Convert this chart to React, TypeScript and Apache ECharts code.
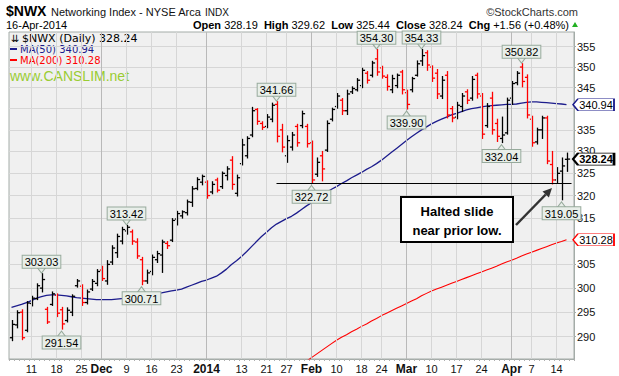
import React, { useEffect, useRef } from 'react';
import * as echarts from 'echarts';

// ---------- DATA ----------
const tradingDays: Record<string, number[]> = {
  '2013-11': [5, 6, 7, 8, 11, 12, 13, 14, 15, 18, 19, 20, 21, 22, 25, 26, 27, 29],
  '2013-12': [2, 3, 4, 5, 6, 9, 10, 11, 12, 13, 16, 17, 18, 19, 20, 23, 24, 26, 27, 30, 31],
  '2014-01': [2, 3, 6, 7, 8, 9, 10, 13, 14, 15, 16, 17, 21, 22, 23, 24, 27, 28, 29, 30, 31],
  '2014-02': [3, 4, 5, 6, 7, 10, 11, 12, 13, 14, 18, 19, 20, 21, 24, 25, 26, 27, 28],
  '2014-03': [3, 4, 5, 6, 7, 10, 11, 12, 13, 14, 17, 18, 19, 20, 21, 24, 25, 26, 27, 28, 31],
  '2014-04': [1, 2, 3, 4, 7, 8, 9, 10, 11, 14, 15, 16],
};
const dates: string[] = [];
Object.keys(tradingDays).forEach((m) =>
  tradingDays[m].forEach((d) => dates.push(`${m}-${String(d).padStart(2, '0')}`))
);

const opens = [
  289.8, 292.4, 295.0, 291.3, 296.8, 297.8, 300.0, 295.6, 296.6, 298.5,
  295.5, 293.3, 295.0, 300.5, 300.4, 297.0, 299.8, 301.0, 303.8, 301.5,
  305.5, 307.5, 310.0, 312.2, 312.0, 309.8, 306.0, 301.5, 303.5, 306.0,
  307.0, 309.5, 310.2, 314.8, 315.5, 316.2, 318.5, 321.6, 323.0, 323.0,
  320.8, 323.5, 322.0, 324.5, 328.0, 320.5, 327.2, 329.0, 333.8, 339.8,
  336.5, 335.8, 337.5, 341.0, 335.0, 329.0, 331.0, 335.8, 336.0, 335.8,
  332.0, 324.8, 329.0, 330.3, 337.5, 340.5, 342.0, 339.5, 344.0, 344.5,
  345.5, 348.5, 348.0, 352.0, 349.8, 347.5, 344.5, 345.5, 348.8, 343.8,
  344.5, 348.0, 351.5, 353.5, 350.0, 348.5, 343.0, 348.0, 340.0, 338.0,
  340.5, 344.0, 342.5, 348.0, 343.0, 336.0, 342.5, 336.5, 333.0, 334.3,
  342.5, 346.2, 350.0, 347.5, 337.5, 332.2, 335.0, 337.8, 327.0, 323.5,
  325.5, 328.19,
];
const highs = [
  293.3, 295.3, 295.5, 297.2, 298.3, 300.9, 303.03, 296.0, 299.2, 298.8,
  296.0, 295.9, 298.6, 301.8, 300.7, 299.6, 301.8, 303.9, 304.6, 305.8,
  309.0, 311.5, 313.0, 313.42, 312.4, 310.5, 306.5, 303.8, 307.0, 307.8,
  310.2, 309.9, 314.9, 316.5, 316.6, 319.0, 322.0, 324.0, 324.6, 323.3,
  323.1, 323.9, 325.3, 326.5, 328.8, 324.6, 332.8, 333.4, 340.3, 340.0,
  336.9, 338.6, 341.3, 341.66, 336.3, 333.6, 334.4, 336.3, 339.4, 336.3,
  332.4, 328.5, 330.0, 337.1, 340.1, 343.6, 342.4, 344.4, 345.2, 347.2,
  349.7, 348.9, 351.4, 354.30, 350.2, 348.1, 348.0, 348.3, 349.2, 344.4,
  347.5, 351.5, 354.33, 354.0, 350.3, 349.4, 347.7, 348.9, 340.5, 341.5,
  343.6, 344.5, 347.7, 348.5, 343.6, 341.2, 343.9, 337.5, 338.0, 342.5,
  346.5, 348.9, 350.82, 348.1, 338.2, 335.4, 338.2, 338.2, 330.0, 326.3,
  328.5, 329.62,
];
const lows = [
  289.2, 291.8, 289.4, 291.0, 296.3, 297.6, 299.2, 292.7, 296.4, 294.1,
  291.54, 293.0, 294.3, 300.2, 296.4, 296.7, 299.5, 300.5, 301.6, 300.8,
  305.0, 306.5, 309.4, 311.5, 309.3, 306.3, 300.71, 301.0, 302.8, 305.4,
  303.3, 308.4, 309.9, 313.5, 315.0, 315.7, 317.6, 321.3, 322.4, 319.4,
  320.4, 320.8, 321.6, 323.5, 321.4, 319.9, 326.9, 328.5, 333.4, 336.3,
  335.1, 335.5, 336.9, 332.2, 329.9, 327.5, 330.3, 331.2, 335.5, 331.0,
  322.72, 324.3, 323.3, 330.0, 337.1, 340.1, 338.6, 338.6, 343.6, 344.2,
  345.0, 346.1, 347.6, 348.0, 347.3, 344.4, 343.8, 345.0, 343.5, 339.90,
  344.0, 347.8, 350.4, 349.2, 346.5, 342.4, 342.4, 337.8, 336.9, 337.6,
  339.3, 341.2, 342.0, 342.5, 333.0, 335.6, 334.0, 332.3, 332.04, 334.0,
  341.0, 345.7, 345.2, 337.8, 331.2, 331.7, 333.0, 327.2, 322.6, 322.8,
  319.05, 325.44,
];
const closes = [
  292.5, 294.9, 289.8, 296.9, 297.9, 300.5, 301.8, 293.0, 298.8, 294.8,
  292.6, 295.4, 298.3, 301.5, 297.0, 299.2, 301.4, 303.5, 302.0, 305.0,
  308.5, 311.0, 312.5, 313.0, 310.0, 306.8, 301.5, 303.2, 306.5, 307.3,
  309.8, 309.0, 314.5, 316.0, 316.4, 318.6, 321.5, 323.6, 324.3, 320.0,
  322.5, 321.2, 325.0, 326.0, 322.5, 324.0, 331.5, 333.0, 339.5, 337.0,
  335.6, 338.0, 340.8, 333.5, 331.0, 332.5, 333.8, 332.0, 338.8, 331.8,
  323.5, 327.5, 326.0, 336.5, 339.8, 343.0, 339.5, 343.5, 344.8, 346.8,
  349.2, 346.8, 351.0, 348.8, 347.8, 345.3, 347.2, 348.0, 344.5, 341.0,
  347.2, 350.8, 352.8, 350.5, 347.3, 343.5, 346.8, 338.5, 337.8, 340.8,
  343.0, 342.0, 347.0, 343.5, 334.0, 340.5, 335.0, 333.5, 333.8, 342.0,
  346.0, 348.5, 346.5, 338.5, 332.0, 335.0, 337.8, 327.8, 323.5, 325.0,
  326.68, 328.24,
];
const ma50 = [
  296.0, 296.3, 296.6, 297.0, 297.4, 297.9, 298.2, 298.5, 298.6, 298.6,
  298.5, 298.4, 298.2, 298.0, 297.9, 297.8, 297.7, 297.6, 297.6, 297.6,
  297.6, 297.7, 297.8, 297.9, 298.1, 298.3, 298.4, 298.5, 298.7, 298.9,
  299.0, 299.2, 299.4, 299.6, 299.8, 300.2, 300.6, 301.0, 301.4, 301.7,
  302.1, 302.5, 303.2, 304.0, 305.0, 305.8, 306.7, 307.7, 308.8, 309.9,
  311.0, 311.9, 312.9, 313.7, 314.3, 314.9, 315.4, 316.1, 316.9, 317.7,
  318.4, 319.2, 319.9, 320.7, 321.4, 322.0, 322.7, 323.3, 324.0, 324.6,
  325.2, 325.9, 326.5, 327.2, 328.0, 328.9, 329.8, 330.7, 331.6, 332.5,
  333.4, 334.2, 335.0, 335.7, 336.4, 337.0, 337.5, 338.0, 338.5, 338.9,
  339.3, 339.7, 340.0, 340.2, 340.4, 340.6, 340.7, 340.8, 340.9, 341.0,
  341.0, 341.1, 341.3, 341.5, 341.6, 341.6, 341.5, 341.4, 341.3, 341.2,
  341.1, 340.94,
];
const ma200: (number | null)[] = [
  null, null, null, null, null, null, null, null, null, null,
  null, null, null, null, null, null, null, null, null, null,
  null, null, null, null, null, null, null, null, null, null,
  null, null, null, null, null, null, null, null, null, null,
  null, null, null, null, null, null, null, null, null, null,
  null, null, null, null, null, null, null, null, null, 285.1,
  285.8, 286.5, 287.2, 287.9, 288.6, 289.3, 289.9, 290.4, 291.0, 291.5,
  292.1, 292.6, 293.2, 293.7, 294.3, 294.8, 295.3, 295.8, 296.3, 296.8,
  297.3, 297.8, 298.4, 298.9, 299.4, 299.8, 300.2, 300.6, 301.0, 301.4,
  301.8, 302.2, 302.6, 303.0, 303.4, 303.8, 304.2, 304.6, 305.1, 305.5,
  305.9, 306.3, 306.8, 307.2, 307.6, 308.0, 308.4, 308.8, 309.2, 309.6,
  309.9, 310.28,
];

const yTicks = [290, 295, 300, 305, 310, 315, 320, 325, 330, 335, 340, 345, 350, 355];
const xTicks = [
  { date: '2013-11-11', text: '11', bold: false },
  { date: '2013-11-18', text: '18', bold: false },
  { date: '2013-11-25', text: '25', bold: false },
  { date: '2013-12-02', text: 'Dec', bold: true },
  { date: '2013-12-09', text: '9', bold: false },
  { date: '2013-12-16', text: '16', bold: false },
  { date: '2013-12-23', text: '23', bold: false },
  { date: '2014-01-02', text: '2014', bold: true },
  { date: '2014-01-13', text: '13', bold: false },
  { date: '2014-01-21', text: '21', bold: false },
  { date: '2014-01-27', text: '27', bold: false },
  { date: '2014-02-03', text: 'Feb', bold: true },
  { date: '2014-02-10', text: '10', bold: false },
  { date: '2014-02-18', text: '18', bold: false },
  { date: '2014-02-24', text: '24', bold: false },
  { date: '2014-03-03', text: 'Mar', bold: true },
  { date: '2014-03-10', text: '10', bold: false },
  { date: '2014-03-17', text: '17', bold: false },
  { date: '2014-03-24', text: '24', bold: false },
  { date: '2014-04-01', text: 'Apr', bold: true },
  { date: '2014-04-07', text: '7', bold: false },
  { date: '2014-04-14', text: '14', bold: false },
];
const highCallouts = [6, 23, 53, 73, 82, 102];
const lowCallouts = [10, 26, 60, 79, 98, 110];
const supportFromIdx = 53;
const supportLowIdx = 60;

// ---------- STYLE ----------
const FONT = '"Liberation Sans", Arial, Helvetica, sans-serif';
const RED = '#ff0000';
const BLUE = '#1c1c8c';
const CALLOUT_BG = '#e8eee9';
const CALLOUT_BORDER = '#97aa9c';

function buildOption() {
  const ln = Math.log;
  const last = dates.length - 1;
  const cats = [...dates, ''];
  const tickMap: Record<string, { text: string; bold: boolean }> = {};
  xTicks.forEach((t) => (tickMap[t.date] = { text: t.text, bold: t.bold }));
  const barColors = closes.map((c, i) => (i === 0 || c >= closes[i - 1] ? '#000000' : RED));
  const ohlc = dates.map((_, i) => [i, ln(opens[i]), ln(closes[i]), ln(lows[i]), ln(highs[i])]);
  const chg = closes[last] - closes[last - 1];
  const pct = (chg / closes[last - 1]) * 100;
  const sign = (v: number) => (v >= 0 ? '+' : '');
  // y labels hidden behind the MA value tags (as in the reference)
  const tagValues = [ma50[last], ma200[last] as number];
  const yLabelValues = yTicks.filter((v) => tagValues.every((t) => Math.abs(v - t) > 1.5));

  const tag = (v: number, border: string, bold: boolean) => ({
    coord: [cats.length - 1, ln(v)],
    name: v.toFixed(2),
    symbol: 'path://M0,5.5 L5,0 L41,0 L41,11 L5,11 Z',
    symbolSize: [41, 12],
    symbolOffset: [22, 0],
    itemStyle: { color: '#ffffff', borderColor: border, borderWidth: bold ? 1.5 : 1 },
    label: {
      show: true,
      position: 'inside',
      offset: [2.5, 0],
      formatter: '{b}',
      fontFamily: FONT,
      fontSize: 11,
      fontWeight: bold ? 'bold' : 'normal',
      color: '#000',
    },
  });

  return {
    animation: false,
    backgroundColor: '#ffffff',
    grid: {
      left: 9,
      top: 32,
      width: 565,
      height: 327,
      show: true,
      backgroundColor: '#f0f0f0',
      borderColor: '#a4aca8',
      borderWidth: 1,
    },
    xAxis: {
      type: 'category',
      data: cats,
      boundaryGap: true,
      axisLine: { show: true, lineStyle: { color: '#a4aca8' } },
      axisTick: { show: true, interval: 0, length: 2, lineStyle: { color: '#b0b0b0' } },
      splitLine: { show: false },
      axisLabel: {
        interval: (_i: number, v: string) => !!tickMap[v],
        formatter: (v: string) => {
          const t = tickMap[v];
          if (!t) return '';
          return t.bold ? `{b|${t.text}}` : t.text;
        },
        fontFamily: FONT,
        fontSize: 11,
        color: '#111',
        margin: 4,
        rich: { b: { fontFamily: FONT, fontSize: 12, fontWeight: 'bold', color: '#111' } },
      },
    },
    yAxis: {
      type: 'value',
      position: 'right',
      min: ln(285.53),
      max: ln(358.66),
      axisLine: { show: true, lineStyle: { color: '#a4aca8' } },
      axisTick: { show: true, length: 2, customValues: yTicks.map(ln), lineStyle: { color: '#a4aca8' } },
      splitLine: { show: true, lineStyle: { color: '#d6d6d6', width: 1 } },
      axisLabel: {
        customValues: yLabelValues.map(ln),
        formatter: (v: number) => String(Math.round(Math.exp(v))),
        fontFamily: FONT,
        fontSize: 11,
        color: '#111',
        margin: 3,
      },
    },
    series: [
      {
        name: 'grid',
        type: 'line',
        z: 1,
        silent: true,
        data: cats.map(() => null),
        markLine: {
          silent: true,
          symbol: 'none',
          animation: false,
          label: { show: false },
          data: xTicks.map((t) => ({
            xAxis: t.date,
            lineStyle: { color: t.bold ? '#b9b9b9' : '#d6d6d6', width: 1, type: 'solid' },
          })),
        },
      },
      {
        name: 'MA(200)',
        type: 'line',
        z: 3,
        data: ma200.map((v) => (v == null ? null : ln(v))),
        showSymbol: false,
        symbol: 'none',
        clip: true,
        lineStyle: { color: RED, width: 1.1 },
        markPoint: { data: [tag(ma200[last] as number, RED, false)] },
      },
      {
        name: 'MA(50)',
        type: 'line',
        z: 3,
        data: ma50.map((v) => ln(v)),
        showSymbol: false,
        symbol: 'none',
        clip: true,
        lineStyle: { color: BLUE, width: 1.3 },
        markPoint: { data: [tag(ma50[last], BLUE, false)] },
      },
      {
        name: '$NWX',
        type: 'custom',
        z: 4,
        data: ohlc,
        encode: { x: 0, y: [1, 2, 3, 4] },
        renderItem: (params: any, api: any) => {
          const i = api.value(0);
          const pO = api.coord([i, api.value(1)]);
          const pC = api.coord([i, api.value(2)]);
          const pL = api.coord([i, api.value(3)]);
          const pH = api.coord([i, api.value(4)]);
          const x = Math.round(pH[0]) + 0.5;
          const stroke = barColors[params.dataIndex];
          const st = { stroke, lineWidth: 1.3 };
          return {
            type: 'group',
            children: [
              { type: 'line', shape: { x1: x, y1: pH[1] - 0.5, x2: x, y2: pL[1] + 0.5 }, style: st },
              { type: 'line', shape: { x1: x - 2.6, y1: pO[1], x2: x, y2: pO[1] }, style: st },
              { type: 'line', shape: { x1: x, y1: pC[1], x2: x + 2.6, y2: pC[1] }, style: st },
            ],
          };
        },
        markLine: {
          silent: true,
          symbol: 'none',
          label: { show: false },
          lineStyle: { color: '#000', width: 1.2, type: 'solid' },
          data: [
            [
              { coord: [supportFromIdx, ln(lows[supportLowIdx])] },
              { coord: [cats.length - 1, ln(lows[supportLowIdx])] },
            ],
          ],
        },
        markPoint: {
          silent: true,
          data: [
            ...highCallouts.map((i) => ({
              coord: [i, ln(highs[i])],
              name: highs[i].toFixed(2),
              symbol: 'path://M0,0 L10,0 L5,6 Z',
              symbolSize: [9, 6],
              symbolOffset: [0, -3.5],
              itemStyle: { color: CALLOUT_BG, borderColor: CALLOUT_BORDER, borderWidth: 1 },
              label: {
                show: true,
                position: 'top',
                distance: -1,
                formatter: '{b}',
                fontFamily: FONT,
                fontSize: 11,
                color: '#000',
                backgroundColor: CALLOUT_BG,
                borderColor: CALLOUT_BORDER,
                borderWidth: 1,
                padding: [1, 2, 0, 2],
                lineHeight: 11,
              },
            })),
            ...lowCallouts.map((i) => ({
              coord: [i, ln(lows[i])],
              name: lows[i].toFixed(2),
              symbol: 'path://M5,0 L10,6 L0,6 Z',
              symbolSize: [9, 6],
              symbolOffset: [0, 5],
              itemStyle: { color: CALLOUT_BG, borderColor: CALLOUT_BORDER, borderWidth: 1 },
              label: {
                show: true,
                position: 'bottom',
                distance: -1,
                formatter: '{b}',
                fontFamily: FONT,
                fontSize: 11,
                color: '#000',
                backgroundColor: CALLOUT_BG,
                borderColor: CALLOUT_BORDER,
                borderWidth: 1,
                padding: [1, 2, 0, 2],
                lineHeight: 11,
              },
            })),
            tag(closes[last], '#000', true),
          ],
        },
      },
    ],
    graphic: [
      { type: 'text', x: 6, y: 11, style: { text: '$NWX', font: `bold 14px ${FONT}`, fill: '#000', verticalAlign: 'middle' } },
      { type: 'text', x: 51, y: 12, style: { text: 'Networking Index - NYSE Arca', font: `11px ${FONT}`, fill: '#111', verticalAlign: 'middle' } },
      { type: 'text', x: 205, y: 12, style: { text: 'INDX', font: `10px ${FONT}`, fill: '#111', verticalAlign: 'middle' } },
      { type: 'text', x: 578, y: 12, style: { text: '©StockCharts.com', font: `11px ${FONT}`, fill: '#333', align: 'right', verticalAlign: 'middle' } },
      { type: 'text', x: 6, y: 25, style: { text: '16-Apr-2014', font: `11px ${FONT}`, fill: '#000', verticalAlign: 'middle' } },
      {
        type: 'text',
        x: 569,
        y: 25,
        style: {
          text:
            `{b|Open} ${opens[last].toFixed(2)}  {b|High} ${highs[last].toFixed(2)}  {b|Low} ${lows[last].toFixed(2)}  ` +
            `{b|Close} ${closes[last].toFixed(2)}  {b|Chg} ${sign(chg)}${chg.toFixed(2)} (${sign(pct)}${pct.toFixed(2)}%)`,
          font: `11px ${FONT}`,
          fill: '#000',
          align: 'right',
          verticalAlign: 'middle',
          rich: { b: { font: `bold 11px ${FONT}`, fill: '#000' } },
        },
      },
      { type: 'polygon', shape: { points: [[572, 27], [578, 27], [575, 22]] }, style: { fill: '#22b022' } },
      // in-plot legend
      { type: 'text', x: 11, y: 38, style: { text: '⇊', font: `10px "DejaVu Sans"`, fill: '#000', verticalAlign: 'middle' } },
      { type: 'text', x: 22, y: 38, style: { text: `$NWX (Daily) ${closes[last].toFixed(2)}`, font: `11px "DejaVu Sans"`, fill: '#000', verticalAlign: 'middle' } },
      { type: 'rect', shape: { x: 10, y: 48, width: 7, height: 2 }, style: { fill: BLUE } },
      { type: 'text', x: 20, y: 49, style: { text: `MA(50) ${ma50[last].toFixed(2)}`, font: `10px "DejaVu Sans"`, fill: BLUE, verticalAlign: 'middle' } },
      { type: 'rect', shape: { x: 10, y: 59, width: 7, height: 2 }, style: { fill: RED } },
      { type: 'text', x: 20, y: 60, style: { text: `MA(200) ${(ma200[last] as number).toFixed(2)}`, font: `10px "DejaVu Sans"`, fill: RED, verticalAlign: 'middle' } },
      { type: 'text', x: 10, y: 76, style: { text: 'www.CANSLIM.net', font: `14px ${FONT}`, fill: '#99cc33', verticalAlign: 'middle' } },
      // annotation
      { type: 'rect', z: 100, shape: { x: 401, y: 197, width: 112, height: 45 }, style: { fill: '#ffffff', stroke: '#000', lineWidth: 2 } },
      { type: 'text', z: 101, x: 457, y: 211, style: { text: 'Halted slide', font: `bold 13px ${FONT}`, fill: '#000', align: 'center', verticalAlign: 'middle' } },
      { type: 'text', z: 101, x: 457, y: 230, style: { text: 'near prior low.', font: `bold 13px ${FONT}`, fill: '#000', align: 'center', verticalAlign: 'middle' } },
      { type: 'line', z: 100, shape: { x1: 516, y1: 225, x2: 545.7, y2: 194.5 }, style: { stroke: '#333', lineWidth: 2.5 } },
      { type: 'polygon', z: 100, shape: { points: [[552, 188], [548.9, 197.6], [542.5, 191.4]] }, style: { fill: '#333' } },
    ],
  };
}

export default function App() {
  const ref = useRef<HTMLDivElement>(null);
  useEffect(() => {
    if (!ref.current) return;
    const chart = echarts.init(ref.current, null, { renderer: 'svg' });
    chart.setOption(buildOption() as any);
    return () => chart.dispose();
  }, []);
  return (
    <div
      ref={ref}
      style={{ position: 'fixed', left: 0, top: 0, width: 619, height: 376, background: '#fff' }}
    />
  );
}
